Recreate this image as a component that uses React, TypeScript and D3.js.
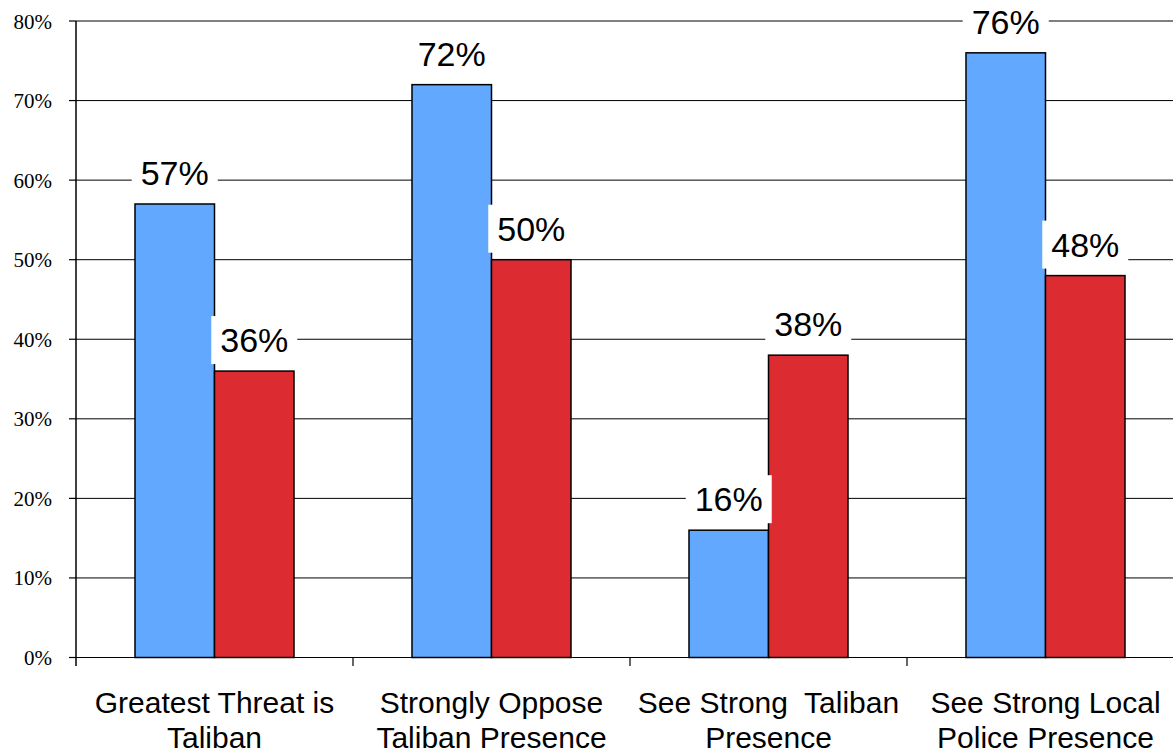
import React from "react";
import * as d3 from "d3";

const categories = [
  ["Greatest Threat is", "Taliban"],
  ["Strongly Oppose", "Taliban Presence"],
  ["See Strong  Taliban", "Presence"],
  ["See Strong Local", "Police Presence"],
];
const seriesNames = ["A", "B"];
const seriesA = [57, 72, 16, 76];
const seriesB = [36, 50, 38, 48];
const yTicks = [0, 10, 20, 30, 40, 50, 60, 70, 80];
const colors = ["#62A8FF", "#DC2C32"];

const W = 1173;
const H = 750;

export default function App() {
  const catKeys = categories.map((_, i) => String(i));
  const x0 = d3.scaleBand<string>().domain(catKeys).range([76, 1184]).paddingInner(0).paddingOuter(0);
  const x1 = d3
    .scaleBand<string>()
    .domain(seriesNames)
    .range([0, x0.bandwidth()])
    .paddingInner(0)
    .paddingOuter(0.742);
  const y = d3.scaleLinear().domain([0, 80]).range([657.5, 21]);
  const values = [seriesA, seriesB];

  const bars: any[] = [];
  const labels: any[] = [];
  catKeys.forEach((k, ci) => {
    seriesNames.forEach((s, si) => {
      const v = values[si][ci];
      const bx = (x0(k) as number) + (x1(s) as number);
      const bw = x1.bandwidth();
      const top = y(v);
      bars.push(
        <rect
          key={`b${ci}${si}`}
          x={bx}
          y={top}
          width={bw}
          height={y(0) - top}
          fill={colors[si]}
          stroke="#000"
          strokeWidth={1.5}
        />
      );
      const cx = bx + bw / 2;
      labels.push(
        <g key={`l${ci}${si}`}>
          <rect x={cx - 43} y={top - 55} width={86} height={48} fill="#fff" />
          <text
            x={cx}
            y={top - 19}
            textAnchor="middle"
            fontFamily="'Liberation Sans', Arial, sans-serif"
            fontSize={34}
            fill="#000"
          >
            {v}%
          </text>
        </g>
      );
    });
  });

  return (
    <svg
      width={W}
      height={H}
      style={{ position: "absolute", left: 0, top: 0, background: "#fff" }}
    >
      <rect x={0} y={0} width={W} height={H} fill="#fff" />
      {yTicks.slice(1).map((t) => (
        <line key={`g${t}`} x1={76} x2={W} y1={y(t)} y2={y(t)} stroke="#000" strokeWidth={1} />
      ))}
      {bars}
      {/* axes */}
      <line x1={76} x2={W} y1={y(0)} y2={y(0)} stroke="#000" strokeWidth={1.2} />
      <line x1={76} x2={76} y1={y(80)} y2={666} stroke="#000" strokeWidth={1.5} />
      {yTicks.map((t) => (
        <g key={`t${t}`}>
          <line x1={69} x2={76} y1={y(t)} y2={y(t)} stroke="#000" strokeWidth={1.2} />
          <text
            x={52}
            y={y(t) + 7.5}
            textAnchor="end"
            fontFamily="'Liberation Serif', 'Times New Roman', serif"
            fontSize={21}
            fill="#000"
          >
            {t}%
          </text>
        </g>
      ))}
      {catKeys.map((k) => (
        <line
          key={`ct${k}`}
          x1={(x0(k) as number) + x0.bandwidth()}
          x2={(x0(k) as number) + x0.bandwidth()}
          y1={y(0)}
          y2={666}
          stroke="#000"
          strokeWidth={1.2}
        />
      ))}
      {categories.map((lines, ci) => {
        const cx = (x0(String(ci)) as number) + x0.bandwidth() / 2;
        return (
          <text
            key={`c${ci}`}
            textAnchor="middle"
            fontFamily="'Liberation Sans', Arial, sans-serif"
            fontSize={30}
            fill="#000"
            style={{ whiteSpace: "pre" }}
          >
            {lines.map((ln, li) => (
              <tspan key={li} x={cx} y={713 + li * 34.5}>
                {ln}
              </tspan>
            ))}
          </text>
        );
      })}
      {labels}
    </svg>
  );
}
